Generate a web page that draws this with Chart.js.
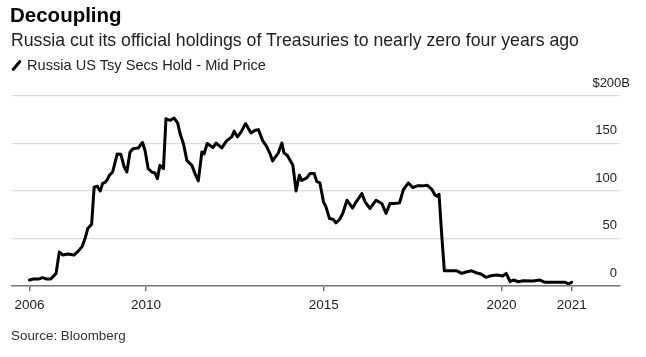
<!DOCTYPE html>
<html>
<head>
<meta charset="utf-8">
<script src="https://cdn.jsdelivr.net/npm/chart.js@4"></script>
<style>
  html, body { margin: 0; padding: 0; background: #fff; }
  body { width: 646px; height: 357px; position: relative; overflow: hidden; font-family: "Liberation Sans", Arial, sans-serif; }
  #wrap { position: absolute; left: 0; top: 0; width: 646px; height: 357px; }
  .t { position: absolute; white-space: nowrap; }
  #title { left: 10px; top: 3px; font-size: 20.5px; font-weight: bold; color: #000; }
  #subtitle { left: 11px; top: 30px; font-size: 17.7px; color: #222; }
  #legend { left: 11px; top: 57px; font-size: 14.6px; color: #222; }
  #legend .icon { display: inline-block; width: 3px; height: 13px; background: #000; transform: rotate(40deg); margin: 0 9px 0 4px; vertical-align: -2px; border-radius: 1px; }
  #source { left: 11px; top: 328px; font-size: 13.4px; color: #333; }
</style>
</head>
<body>
<div id="wrap"><canvas id="c" width="646" height="357"></canvas></div>
<div class="t" id="title">Decoupling</div>
<div class="t" id="subtitle">Russia cut its official holdings of Treasuries to nearly zero four years ago</div>
<div class="t" id="legend"><span class="icon"></span>Russia US Tsy Secs Hold - Mid Price</div>
<div class="t" id="source">Source: Bloomberg</div>
<script>
// Dates as decimal years, values in $ billions
const dates = [
  2006.72, 2006.83, 2006.97, 2007.09, 2007.21, 2007.32, 2007.47, 2007.56, 2007.66, 2007.81,
  2007.97, 2008.10, 2008.21, 2008.30, 2008.36, 2008.47, 2008.54, 2008.63, 2008.71, 2008.78,
  2008.85, 2008.91, 2008.97, 2009.06, 2009.19, 2009.29, 2009.38, 2009.46, 2009.55, 2009.64,
  2009.78, 2009.90, 2009.97, 2010.06, 2010.16, 2010.25, 2010.32, 2010.39, 2010.49, 2010.56,
  2010.68, 2010.79, 2010.89, 2010.96, 2011.05, 2011.15, 2011.29, 2011.38, 2011.47, 2011.57,
  2011.63, 2011.72, 2011.88, 2011.97, 2012.13, 2012.27, 2012.41, 2012.48, 2012.57, 2012.67,
  2012.80, 2012.95, 2013.07, 2013.16, 2013.28, 2013.39, 2013.49, 2013.56, 2013.72, 2013.82,
  2013.88, 2013.97, 2014.13, 2014.17, 2014.22, 2014.31, 2014.38, 2014.52, 2014.61, 2014.73,
  2014.80, 2014.89, 2014.99, 2015.06, 2015.16, 2015.27, 2015.34, 2015.44, 2015.53, 2015.65,
  2015.81, 2015.91, 2016.07, 2016.16, 2016.30, 2016.47, 2016.63, 2016.75, 2016.86, 2017.00,
  2017.13, 2017.24, 2017.38, 2017.50, 2017.63, 2017.78, 2017.91, 2018.04, 2018.13, 2018.19,
  2018.24, 2018.32, 2018.39, 2018.50, 2018.74, 2018.88, 2019.02, 2019.16, 2019.28, 2019.42,
  2019.56, 2019.70, 2019.87, 2020.03, 2020.13, 2020.24, 2020.33, 2020.47, 2020.61, 2020.89,
  2021.08, 2021.22, 2021.46, 2021.79, 2021.88, 2021.97
];
const holdings = [
  6.3, 7.3, 7.3, 8.8, 7.3, 7.3, 13.3, 35.7, 32.6, 33.6,
  32.6, 37, 42, 51.8, 60.6, 65, 104, 105, 100, 108,
  109, 112, 116.6, 120, 139, 138.7, 126, 120, 141, 144.6,
  145.3, 151, 142.9, 123.6, 120, 119, 113, 127, 123.6, 176,
  174.4, 176.8, 171.5, 160, 150, 132, 127, 118, 110.6, 141,
  139, 150, 145.7, 150.5, 145.3, 153, 157, 163, 157, 162,
  171, 161, 164, 164.6, 153, 147, 139, 131.6, 140, 150.5,
  140, 137.6, 127, 114.8, 100, 116.6, 111, 113.8, 118.4, 118.4,
  110, 108.5, 88.6, 83.3, 71, 70, 66.5, 70, 76, 90.3,
  82, 88.6, 97.4, 88.6, 81.6, 90.3, 86.9, 76.4, 86.9, 86.9,
  87.5, 101.6, 108.5, 103.7, 105.4, 105.4, 106, 101.6, 95.6, 94.5,
  96.6, 51.8, 16, 16, 16, 13.3, 15, 16, 14, 12.6,
  9.1, 10.8, 11.6, 10.5, 13.3, 4.5, 6.3, 4.5, 5.6, 5.3,
  6.3, 3.9, 3.9, 3.9, 2.1, 3.9
];
const xTickValues = [2006.72, 2010, 2015, 2020, 2021.97];
const xTickLabels = ['2006', '2010', '2015', '2020', '2021'];
const yTickValues = [0, 50, 100, 150];
const yTickLabels = ['0', '50', '100', '150'];
const yTopValue = 200;
const yTopLabel = '$200B';
const seriesName = 'Russia US Tsy Secs Hold - Mid Price';

const points = dates.map((d, i) => ({ x: d, y: holdings[i] }));
const font13 = { family: '"Liberation Sans", Arial, sans-serif', size: 13 };

new Chart(document.getElementById('c'), {
  type: 'line',
  data: {
    datasets: [{
      label: seriesName,
      data: points,
      borderColor: '#000',
      borderWidth: 3,
      pointRadius: 0,
      tension: 0,
      borderJoinStyle: 'round',
      borderCapStyle: 'round',
      yAxisID: 'y'
    }]
  },
  options: {
    responsive: false,
    animation: false,
    events: [],
    layout: { padding: { left: 12, right: 26, top: 96, bottom: 41 } },
    plugins: { legend: { display: false }, tooltip: { enabled: false }, title: { display: false } },
    scales: {
      x: {
        type: 'linear',
        min: 2006.23,
        max: 2023.33,
        afterBuildTicks: (s) => { s.ticks = xTickValues.map(v => ({ value: v })); },
        afterFit: (s) => { s.height = 30; },
        ticks: {
          autoSkip: false, maxRotation: 0, minRotation: 0, padding: 6,
          color: '#222',
          font: { family: '"Liberation Sans", Arial, sans-serif', size: 13.5 },
          callback: (v) => { const i = xTickValues.indexOf(v); return i >= 0 ? xTickLabels[i] : ''; }
        },
        grid: { display: true, drawOnChartArea: false, drawTicks: true, tickLength: 5, color: '#777', lineWidth: 1.5 },
        border: { display: true, color: '#777', width: 1.5, z: 1 }
      },
      y: {
        position: 'right',
        min: 0,
        max: 200,
        afterBuildTicks: (s) => { s.ticks = yTickValues.concat([yTopValue]).map(v => ({ value: v })); },
        afterFit: (s) => { s.width = 0; },
        ticks: {
          mirror: true, padding: -3, labelOffset: -13,
          color: '#222',
          font: font13,
          callback: (v) => { const i = yTickValues.indexOf(v); return i >= 0 ? yTickLabels[i] : ''; }
        },
        grid: { color: '#dcdcdc', lineWidth: 1.2, drawTicks: false },
        border: { display: false }
      },
      y2: {
        position: 'right',
        min: 0,
        max: 200,
        afterBuildTicks: (s) => { s.ticks = [{ value: yTopValue }]; },
        afterFit: (s) => { s.width = 0; },
        ticks: {
          mirror: true, padding: 10, labelOffset: -13,
          color: '#222',
          font: font13,
          callback: () => yTopLabel
        },
        grid: { display: false, drawTicks: false },
        border: { display: false }
      }
    }
  }
});
</script>
</body>
</html>
